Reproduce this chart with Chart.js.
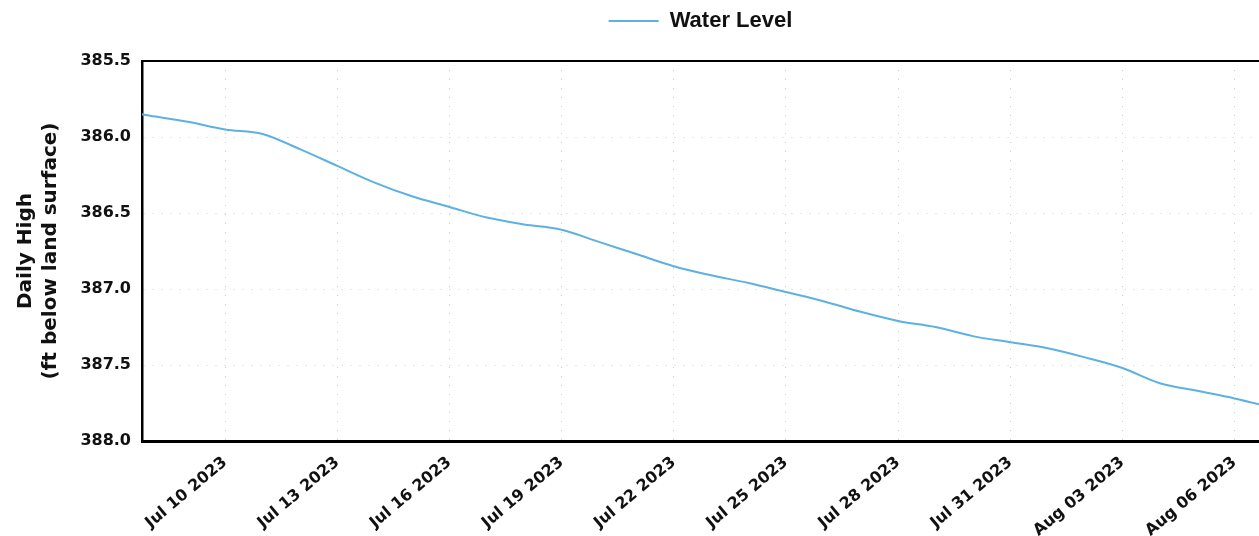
<!DOCTYPE html>
<html>
<head>
<meta charset="utf-8">
<title>Water Level</title>
<script src="https://cdn.jsdelivr.net/npm/chart.js@4.4.1/dist/chart.umd.min.js"></script>
<style>
  html, body { margin: 0; padding: 0; background: #fff; overflow: hidden; }
  canvas { display: block; }
</style>
</head>
<body>
<canvas id="grafico" width="1259" height="536"></canvas>
<script>
// daily highs, ft below land surface
const dates = [
  "2023-07-07", "2023-07-08", "2023-07-09", "2023-07-10", "2023-07-11", "2023-07-12",
  "2023-07-13", "2023-07-14", "2023-07-15", "2023-07-16", "2023-07-17", "2023-07-18",
  "2023-07-19", "2023-07-20", "2023-07-21", "2023-07-22", "2023-07-23", "2023-07-24",
  "2023-07-25", "2023-07-26", "2023-07-27", "2023-07-28", "2023-07-29", "2023-07-30",
  "2023-07-31", "2023-08-01", "2023-08-02", "2023-08-03", "2023-08-04", "2023-08-05",
  "2023-08-06", "2023-08-07"
];
const waterLevel = [
  385.82, 385.86, 385.90, 385.95, 385.98, 386.08,
  386.19, 386.30, 386.39, 386.46, 386.53, 386.575,
  386.61, 386.69, 386.77, 386.85, 386.91, 386.96,
  387.02, 387.08, 387.15, 387.21, 387.25, 387.31,
  387.35, 387.39, 387.45, 387.52, 387.62, 387.67,
  387.72, 387.78
];
const viewStart = "2023-07-07T18:40Z";
const viewEnd = "2023-08-06T15:40Z";
const yMin = 385.5;
const yMax = 388.0;
const yStep = 0.5;
const xStepDays = 3;

const meses = ["Jan", "Feb", "Mar", "Apr", "May", "Jun", "Jul", "Aug", "Sep", "Oct", "Nov", "Dec"];
const base = Date.UTC(2023, 6, 1);

function paraDia(s) {
  return (Date.parse(s) - base) / 86400000;
}

function rotuloData(valor) {
  const d = new Date(base + Math.round(valor) * 86400000);
  const dia = String(d.getUTCDate()).padStart(2, "0");
  return `${meses[d.getUTCMonth()]} ${dia} ${d.getUTCFullYear()}`;
}

const pontos = dates.map((s, i) => ({ x: paraDia(s), y: waterLevel[i] }));

const corLinha = "#5db1e2";
const grade = {
  color: "rgba(140,180,215,0.6)",
  lineWidth: 1,
  drawTicks: false
};
const fonteTicks = { family: "DejaVu Sans", size: 16, weight: "bold" };

new Chart(document.getElementById("grafico"), {
  type: "line",
  data: {
    datasets: [{
      label: "Water Level",
      data: pontos,
      borderColor: corLinha,
      backgroundColor: corLinha,
      borderWidth: 2,
      pointRadius: 0,
      pointHoverRadius: 0,
      cubicInterpolationMode: "monotone",
      fill: false
    }]
  },
  options: {
    responsive: false,
    animation: false,
    layout: { padding: 0 },
    plugins: {
      legend: {
        display: true,
        position: "top",
        fullSize: false,
        labels: {
          usePointStyle: true,
          pointStyle: "line",
          pointStyleWidth: 50,
          padding: 10,
          color: "#111",
          font: { family: "Liberation Sans", size: 22, weight: "bold" }
        }
      },
      tooltip: { enabled: false }
    },
    scales: {
      x: {
        type: "linear",
        position: "bottom",
        min: paraDia(viewStart),
        max: paraDia(viewEnd),
        grid: grade,
        border: { display: true, color: "#000", width: 3, dash: [1, 8] },
        ticks: {
          stepSize: xStepDays,
          includeBounds: false,
          autoSkip: false,
          minRotation: 40,
          maxRotation: 40,
          padding: 12,
          color: "#111",
          font: fonteTicks,
          callback: (valor) => rotuloData(valor)
        },
        afterFit: (scale) => { scale.height = 95; }
      },
      xTopo: {
        type: "linear",
        position: "top",
        grid: { display: false, drawTicks: false },
        border: { display: true, color: "#000", width: 2 },
        ticks: { display: false },
        afterFit: (scale) => { scale.height = 19; }
      },
      y: {
        reverse: true,
        min: yMin,
        max: yMax,
        grid: grade,
        border: { display: true, color: "#000", width: 2.5, dash: [1, 8] },
        ticks: {
          stepSize: yStep,
          padding: 11,
          color: "#111",
          font: fonteTicks,
          callback: (valor) => valor.toFixed(1)
        },
        title: {
          display: true,
          text: ["Daily High", "(ft below land surface)"],
          color: "#111",
          font: { family: "DejaVu Sans", size: 20, weight: "bold", lineHeight: 1.25 },
          padding: { top: 13, bottom: 4 }
        },
        afterFit: (scale) => { scale.width = 142; }
      }
    }
  }
});
</script>
</body>
</html>
